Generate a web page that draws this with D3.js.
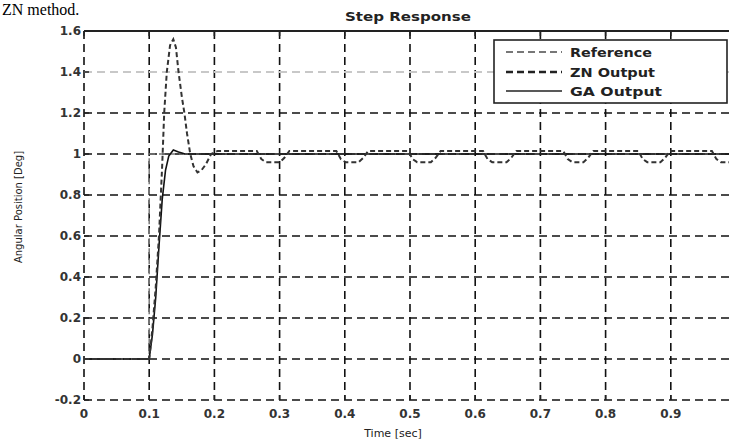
<!DOCTYPE html>
<html>
<head>
<meta charset="utf-8">
<script src="https://cdn.jsdelivr.net/npm/d3@7"></script>
<style>
  body { margin: 0; background: #fff; }
  svg { display: block; font-family: "DejaVu Sans", Verdana, sans-serif; }
</style>
</head>
<body>
<div id="chart"></div>
<script>
// step response data
const xTicks = [0, 0.1, 0.2, 0.3, 0.4, 0.5, 0.6, 0.7, 0.8, 0.9];
const xTickLabels = ["0", "0.1", "0.2", "0.3", "0.4", "0.5", "0.6", "0.7", "0.8", "0.9"];
const yTicks = [-0.2, 0, 0.2, 0.4, 0.6, 0.8, 1, 1.2, 1.4, 1.6];
const yTickLabels = ["-0.2", "0", "0.2", "0.4", "0.6", "0.8", "1", "1.2", "1.4", "1.6"];

const refTime = [0, 0.1, 0.1, 1];
const refValue = [0, 0, 1, 1];

const gaTime = [0, 0.1, 0.105, 0.11, 0.115, 0.12, 0.125, 0.13, 0.137, 0.145, 0.155, 1];
const gaValue = [0, 0, 0.12, 0.3, 0.55, 0.78, 0.92, 0.99, 1.02, 1.01, 1.0, 1.0];

const znTime = [0, 0.1, 0.105, 0.11, 0.115, 0.12, 0.123, 0.127, 0.132, 0.137, 0.141, 0.145,
  0.15, 0.154, 0.158, 0.163, 0.168, 0.174, 0.18, 0.187, 0.195, 0.205,
  0.265, 0.272, 0.279, 0.3, 0.307, 0.315,
  0.387, 0.394, 0.401, 0.421, 0.428, 0.436,
  0.497, 0.504, 0.511, 0.532, 0.539, 0.547,
  0.612, 0.619, 0.626, 0.648, 0.655, 0.663,
  0.735, 0.742, 0.749, 0.766, 0.773, 0.781,
  0.85, 0.857, 0.864, 0.884, 0.891, 0.899,
  0.963, 0.97, 0.977, 1.0];
const znValue = [0, 0, 0.15, 0.35, 0.6, 0.95, 1.2, 1.4, 1.53, 1.56, 1.52, 1.4,
  1.28, 1.2, 1.1, 1.0, 0.94, 0.91, 0.92, 0.95, 1.0, 1.015,
  1.015, 0.975, 0.96, 0.96, 0.98, 1.015,
  1.015, 0.975, 0.96, 0.96, 0.98, 1.015,
  1.015, 0.975, 0.96, 0.96, 0.98, 1.015,
  1.015, 0.975, 0.96, 0.96, 0.98, 1.015,
  1.015, 0.975, 0.96, 0.96, 0.98, 1.015,
  1.015, 0.975, 0.96, 0.96, 0.98, 1.015,
  1.015, 0.975, 0.96, 0.96];

const legendNames = ["Reference", "ZN Output", "GA Output"];

const W = 729, H = 440;
const plotL = 84, plotR = 736, plotT = 31, plotB = 400;

const svg = d3.select("#chart").append("svg")
  .attr("width", W).attr("height", H);

// bit of the paper's text above the figure
svg.append("text")
  .attr("x", 2).attr("y", 15)
  .style("font-family", "'Liberation Serif', serif")
  .style("font-size", "16px")
  .text("ZN method.");

const x = d3.scaleLinear().domain([0, 1]).range([plotL, plotR]);
const y = d3.scaleLinear().domain([-0.2, 1.6]).range([plotB, plotT]);

// grid
const grid = svg.append("g");
grid.selectAll(".vg").data(xTicks).enter().append("line")
  .attr("x1", d => x(d)).attr("x2", d => x(d))
  .attr("y1", plotT).attr("y2", plotB)
  .attr("stroke", "#111").attr("stroke-width", 1.6)
  .attr("stroke-dasharray", "8,5");
grid.selectAll(".hg").data(yTicks).enter().append("line")
  .attr("x1", plotL).attr("x2", W)
  .attr("y1", d => y(d)).attr("y2", d => y(d))
  .attr("stroke", d => d === 1.4 ? "#c8c8c8" : "#111")
  .attr("stroke-width", d => d === 1.4 ? 2.2 : 1.6)
  .attr("stroke-dasharray", "8,5");

// top border
svg.append("line")
  .attr("x1", plotL).attr("x2", W).attr("y1", plotT).attr("y2", plotT)
  .attr("stroke", "#222").attr("stroke-width", 2);

// tick marks pointing inward
const ticks = svg.append("g").attr("stroke", "#222").attr("stroke-width", 1.5);
ticks.selectAll(".tt").data(xTicks).enter().append("line")
  .attr("x1", d => x(d)).attr("x2", d => x(d)).attr("y1", plotT).attr("y2", plotT + 5);
ticks.selectAll(".bt").data(xTicks).enter().append("line")
  .attr("x1", d => x(d)).attr("x2", d => x(d)).attr("y1", plotB).attr("y2", plotB - 5);
ticks.selectAll(".lt").data(yTicks).enter().append("line")
  .attr("x1", plotL).attr("x2", plotL + 5).attr("y1", d => y(d)).attr("y2", d => y(d));

// series
const line = d3.line().x(d => x(d[0])).y(d => y(d[1]));
const zip = (a, b) => a.map((t, i) => [t, b[i]]);

svg.append("path").datum(zip(refTime, refValue))
  .attr("d", line).attr("fill", "none")
  .attr("stroke", "#777").attr("stroke-width", 1.5).attr("stroke-dasharray", "6,4");
svg.append("path").datum(zip(gaTime, gaValue))
  .attr("d", line).attr("fill", "none")
  .attr("stroke", "#111").attr("stroke-width", 1.6);
svg.append("path").datum(zip(znTime, znValue))
  .attr("d", line).attr("fill", "none")
  .attr("stroke", "#333").attr("stroke-width", 2).attr("stroke-dasharray", "5,3");

// tick labels
svg.selectAll(".xl").data(xTicks).enter().append("text")
  .attr("x", d => x(d)).attr("y", 418)
  .attr("text-anchor", "middle")
  .style("font-size", "12px").style("font-weight", "bold").attr("fill", "#333")
  .text((d, i) => xTickLabels[i]);
svg.selectAll(".yl").data(yTicks).enter().append("text")
  .attr("x", plotL - 3).attr("y", d => y(d) + 4)
  .attr("text-anchor", "end")
  .style("font-size", "12px").style("font-weight", "bold").attr("fill", "#333")
  .text((d, i) => yTickLabels[i]);

// titles
svg.append("text")
  .attr("x", 345).attr("y", 21)
  .attr("textLength", 126).attr("lengthAdjust", "spacingAndGlyphs")
  .style("font-size", "13px").style("font-weight", "bold").attr("fill", "#222")
  .text("Step Response");
svg.append("text")
  .attr("x", 393).attr("y", 437).attr("text-anchor", "middle")
  .style("font-size", "11px").attr("fill", "#222")
  .text("Time  [sec]");
svg.append("text")
  .attr("transform", "translate(22,207) rotate(-90)")
  .attr("text-anchor", "middle")
  .style("font-size", "10px").attr("fill", "#222")
  .text("Angular  Position  [Deg]");

// legend
const lg = svg.append("g");
lg.append("rect")
  .attr("x", 494).attr("y", 40).attr("width", 233).attr("height", 63)
  .attr("fill", "#fff").attr("stroke", "#222").attr("stroke-width", 1.6);
const legendStyles = [
  { color: "#777", dash: "7,4", w: 2 },
  { color: "#222", dash: "7,4", w: 2.4 },
  { color: "#222", dash: null, w: 1.6 }
];
const legendY = [52, 72, 91];
legendNames.forEach((name, i) => {
  lg.append("line")
    .attr("x1", 506).attr("x2", 562)
    .attr("y1", legendY[i]).attr("y2", legendY[i])
    .attr("stroke", legendStyles[i].color).attr("stroke-width", legendStyles[i].w)
    .attr("stroke-dasharray", legendStyles[i].dash);
  lg.append("text")
    .attr("x", 570).attr("y", legendY[i] + 5)
    .attr("textLength", [82, 85, 92][i]).attr("lengthAdjust", "spacingAndGlyphs")
    .style("font-size", "13px").style("font-weight", "bold").attr("fill", "#222")
    .text(name);
});
</script>
</body>
</html>
